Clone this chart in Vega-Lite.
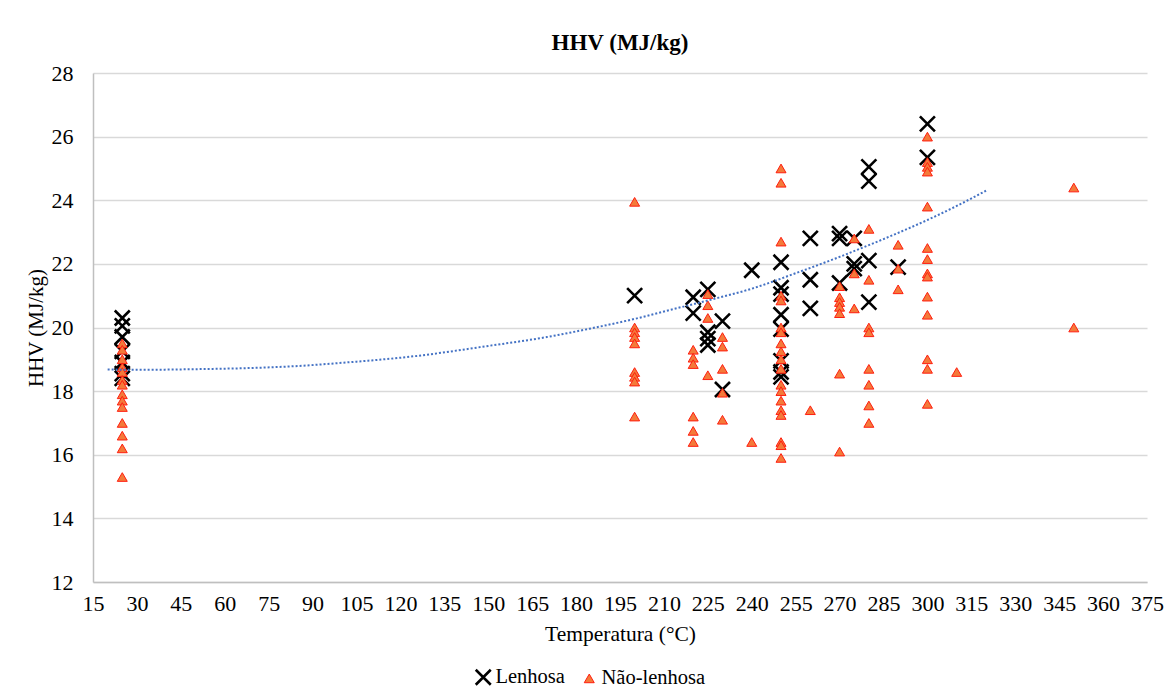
{
  "$schema": "https://vega.github.io/schema/vega-lite/v6.json",
  "width": 1054,
  "height": 509,
  "autosize": {"type": "none"},
  "padding": {"left": 93, "top": 73, "right": 17, "bottom": 110},
  "background": "white",
  "config": {
    "view": {"stroke": null},
    "font": "Liberation Serif",
    "axis": {"labelFont": "Liberation Serif", "titleFont": "Liberation Serif", "labelColor": "#000000", "titleColor": "#000000"},
    "legend": {"labelFont": "Liberation Serif"}
  },
  "title": {"text": "HHV (MJ/kg)", "font": "Liberation Serif", "fontSize": 23, "fontWeight": "bold", "color": "#000000", "anchor": "middle", "offset": 7},
  "datasets": {
    "pts": [
      {"t": 25, "hhv": 20.3, "s": "Lenhosa"},
      {"t": 25, "hhv": 20.05, "s": "Lenhosa"},
      {"t": 25, "hhv": 19.7, "s": "Lenhosa"},
      {"t": 25, "hhv": 19.25, "s": "Lenhosa"},
      {"t": 25, "hhv": 18.9, "s": "Lenhosa"},
      {"t": 25, "hhv": 18.55, "s": "Lenhosa"},
      {"t": 25, "hhv": 18.4, "s": "Lenhosa"},
      {"t": 200, "hhv": 21.0, "s": "Lenhosa"},
      {"t": 220, "hhv": 20.95, "s": "Lenhosa"},
      {"t": 220, "hhv": 20.45, "s": "Lenhosa"},
      {"t": 225, "hhv": 21.2, "s": "Lenhosa"},
      {"t": 225, "hhv": 19.85, "s": "Lenhosa"},
      {"t": 225, "hhv": 19.65, "s": "Lenhosa"},
      {"t": 225, "hhv": 19.45, "s": "Lenhosa"},
      {"t": 230, "hhv": 20.2, "s": "Lenhosa"},
      {"t": 230, "hhv": 18.05, "s": "Lenhosa"},
      {"t": 240, "hhv": 21.8, "s": "Lenhosa"},
      {"t": 250, "hhv": 22.05, "s": "Lenhosa"},
      {"t": 250, "hhv": 21.25, "s": "Lenhosa"},
      {"t": 250, "hhv": 21.05, "s": "Lenhosa"},
      {"t": 250, "hhv": 20.4, "s": "Lenhosa"},
      {"t": 250, "hhv": 19.95, "s": "Lenhosa"},
      {"t": 250, "hhv": 18.95, "s": "Lenhosa"},
      {"t": 250, "hhv": 18.6, "s": "Lenhosa"},
      {"t": 250, "hhv": 18.45, "s": "Lenhosa"},
      {"t": 260, "hhv": 22.8, "s": "Lenhosa"},
      {"t": 260, "hhv": 21.5, "s": "Lenhosa"},
      {"t": 260, "hhv": 20.6, "s": "Lenhosa"},
      {"t": 270, "hhv": 22.95, "s": "Lenhosa"},
      {"t": 270, "hhv": 22.8, "s": "Lenhosa"},
      {"t": 270, "hhv": 21.4, "s": "Lenhosa"},
      {"t": 275, "hhv": 22.8, "s": "Lenhosa"},
      {"t": 275, "hhv": 22.0, "s": "Lenhosa"},
      {"t": 275, "hhv": 21.85, "s": "Lenhosa"},
      {"t": 280, "hhv": 25.05, "s": "Lenhosa"},
      {"t": 280, "hhv": 24.6, "s": "Lenhosa"},
      {"t": 280, "hhv": 22.1, "s": "Lenhosa"},
      {"t": 280, "hhv": 20.8, "s": "Lenhosa"},
      {"t": 290, "hhv": 21.9, "s": "Lenhosa"},
      {"t": 300, "hhv": 26.4, "s": "Lenhosa"},
      {"t": 300, "hhv": 25.35, "s": "Lenhosa"},

      {"t": 25, "hhv": 19.5, "s": "Não-lenhosa"},
      {"t": 25, "hhv": 19.3, "s": "Não-lenhosa"},
      {"t": 25, "hhv": 19.0, "s": "Não-lenhosa"},
      {"t": 25, "hhv": 18.75, "s": "Não-lenhosa"},
      {"t": 25, "hhv": 18.6, "s": "Não-lenhosa"},
      {"t": 25, "hhv": 18.35, "s": "Não-lenhosa"},
      {"t": 25, "hhv": 18.2, "s": "Não-lenhosa"},
      {"t": 25, "hhv": 17.9, "s": "Não-lenhosa"},
      {"t": 25, "hhv": 17.7, "s": "Não-lenhosa"},
      {"t": 25, "hhv": 17.5, "s": "Não-lenhosa"},
      {"t": 25, "hhv": 17.0, "s": "Não-lenhosa"},
      {"t": 25, "hhv": 16.6, "s": "Não-lenhosa"},
      {"t": 25, "hhv": 16.2, "s": "Não-lenhosa"},
      {"t": 25, "hhv": 15.3, "s": "Não-lenhosa"},
      {"t": 200, "hhv": 23.95, "s": "Não-lenhosa"},
      {"t": 200, "hhv": 20.0, "s": "Não-lenhosa"},
      {"t": 200, "hhv": 19.85, "s": "Não-lenhosa"},
      {"t": 200, "hhv": 19.7, "s": "Não-lenhosa"},
      {"t": 200, "hhv": 19.5, "s": "Não-lenhosa"},
      {"t": 200, "hhv": 18.6, "s": "Não-lenhosa"},
      {"t": 200, "hhv": 18.45, "s": "Não-lenhosa"},
      {"t": 200, "hhv": 18.3, "s": "Não-lenhosa"},
      {"t": 200, "hhv": 17.2, "s": "Não-lenhosa"},
      {"t": 220, "hhv": 19.3, "s": "Não-lenhosa"},
      {"t": 220, "hhv": 19.05, "s": "Não-lenhosa"},
      {"t": 220, "hhv": 18.85, "s": "Não-lenhosa"},
      {"t": 220, "hhv": 17.2, "s": "Não-lenhosa"},
      {"t": 220, "hhv": 16.75, "s": "Não-lenhosa"},
      {"t": 220, "hhv": 16.4, "s": "Não-lenhosa"},
      {"t": 225, "hhv": 21.05, "s": "Não-lenhosa"},
      {"t": 225, "hhv": 20.7, "s": "Não-lenhosa"},
      {"t": 225, "hhv": 20.3, "s": "Não-lenhosa"},
      {"t": 225, "hhv": 18.5, "s": "Não-lenhosa"},
      {"t": 230, "hhv": 19.7, "s": "Não-lenhosa"},
      {"t": 230, "hhv": 19.4, "s": "Não-lenhosa"},
      {"t": 230, "hhv": 18.7, "s": "Não-lenhosa"},
      {"t": 230, "hhv": 17.95, "s": "Não-lenhosa"},
      {"t": 230, "hhv": 17.1, "s": "Não-lenhosa"},
      {"t": 240, "hhv": 16.4, "s": "Não-lenhosa"},
      {"t": 250, "hhv": 25.0, "s": "Não-lenhosa"},
      {"t": 250, "hhv": 24.55, "s": "Não-lenhosa"},
      {"t": 250, "hhv": 22.7, "s": "Não-lenhosa"},
      {"t": 250, "hhv": 21.0, "s": "Não-lenhosa"},
      {"t": 250, "hhv": 20.85, "s": "Não-lenhosa"},
      {"t": 250, "hhv": 20.0, "s": "Não-lenhosa"},
      {"t": 250, "hhv": 19.85, "s": "Não-lenhosa"},
      {"t": 250, "hhv": 19.5, "s": "Não-lenhosa"},
      {"t": 250, "hhv": 19.25, "s": "Não-lenhosa"},
      {"t": 250, "hhv": 19.0, "s": "Não-lenhosa"},
      {"t": 250, "hhv": 18.7, "s": "Não-lenhosa"},
      {"t": 250, "hhv": 18.2, "s": "Não-lenhosa"},
      {"t": 250, "hhv": 18.0, "s": "Não-lenhosa"},
      {"t": 250, "hhv": 17.7, "s": "Não-lenhosa"},
      {"t": 250, "hhv": 17.4, "s": "Não-lenhosa"},
      {"t": 250, "hhv": 17.25, "s": "Não-lenhosa"},
      {"t": 250, "hhv": 16.4, "s": "Não-lenhosa"},
      {"t": 250, "hhv": 16.3, "s": "Não-lenhosa"},
      {"t": 250, "hhv": 15.9, "s": "Não-lenhosa"},
      {"t": 260, "hhv": 17.4, "s": "Não-lenhosa"},
      {"t": 270, "hhv": 21.3, "s": "Não-lenhosa"},
      {"t": 270, "hhv": 20.95, "s": "Não-lenhosa"},
      {"t": 270, "hhv": 20.8, "s": "Não-lenhosa"},
      {"t": 270, "hhv": 20.65, "s": "Não-lenhosa"},
      {"t": 270, "hhv": 20.45, "s": "Não-lenhosa"},
      {"t": 270, "hhv": 18.55, "s": "Não-lenhosa"},
      {"t": 270, "hhv": 16.1, "s": "Não-lenhosa"},
      {"t": 275, "hhv": 22.8, "s": "Não-lenhosa"},
      {"t": 275, "hhv": 21.7, "s": "Não-lenhosa"},
      {"t": 275, "hhv": 20.6, "s": "Não-lenhosa"},
      {"t": 280, "hhv": 23.1, "s": "Não-lenhosa"},
      {"t": 280, "hhv": 21.5, "s": "Não-lenhosa"},
      {"t": 280, "hhv": 20.0, "s": "Não-lenhosa"},
      {"t": 280, "hhv": 19.85, "s": "Não-lenhosa"},
      {"t": 280, "hhv": 18.7, "s": "Não-lenhosa"},
      {"t": 280, "hhv": 18.2, "s": "Não-lenhosa"},
      {"t": 280, "hhv": 17.55, "s": "Não-lenhosa"},
      {"t": 280, "hhv": 17.0, "s": "Não-lenhosa"},
      {"t": 290, "hhv": 22.6, "s": "Não-lenhosa"},
      {"t": 290, "hhv": 21.85, "s": "Não-lenhosa"},
      {"t": 290, "hhv": 21.2, "s": "Não-lenhosa"},
      {"t": 300, "hhv": 26.0, "s": "Não-lenhosa"},
      {"t": 300, "hhv": 25.2, "s": "Não-lenhosa"},
      {"t": 300, "hhv": 25.05, "s": "Não-lenhosa"},
      {"t": 300, "hhv": 24.9, "s": "Não-lenhosa"},
      {"t": 300, "hhv": 23.8, "s": "Não-lenhosa"},
      {"t": 300, "hhv": 22.5, "s": "Não-lenhosa"},
      {"t": 300, "hhv": 22.15, "s": "Não-lenhosa"},
      {"t": 300, "hhv": 21.7, "s": "Não-lenhosa"},
      {"t": 300, "hhv": 21.6, "s": "Não-lenhosa"},
      {"t": 300, "hhv": 20.97, "s": "Não-lenhosa"},
      {"t": 300, "hhv": 20.4, "s": "Não-lenhosa"},
      {"t": 300, "hhv": 19.0, "s": "Não-lenhosa"},
      {"t": 300, "hhv": 18.7, "s": "Não-lenhosa"},
      {"t": 300, "hhv": 17.6, "s": "Não-lenhosa"},
      {"t": 310, "hhv": 18.6, "s": "Não-lenhosa"},
      {"t": 350, "hhv": 24.4, "s": "Não-lenhosa"},
      {"t": 350, "hhv": 20.0, "s": "Não-lenhosa"}
    ],
    "trend": [
      {"t": 20, "hhv": 18.68},
      {"t": 30, "hhv": 18.67},
      {"t": 50, "hhv": 18.69},
      {"t": 70, "hhv": 18.73},
      {"t": 85, "hhv": 18.79},
      {"t": 100, "hhv": 18.89},
      {"t": 125, "hhv": 19.1},
      {"t": 150, "hhv": 19.42},
      {"t": 170, "hhv": 19.7},
      {"t": 185, "hhv": 19.97},
      {"t": 200, "hhv": 20.27},
      {"t": 212, "hhv": 20.55},
      {"t": 225, "hhv": 20.85},
      {"t": 240, "hhv": 21.22},
      {"t": 256, "hhv": 21.74},
      {"t": 270, "hhv": 22.22},
      {"t": 285, "hhv": 22.78},
      {"t": 300, "hhv": 23.38},
      {"t": 310, "hhv": 23.82},
      {"t": 320, "hhv": 24.3}
    ]
  },
  "layer": [
    {
      "data": {"name": "pts"},
      "mark": {"type": "point", "opacity": 1, "size": 100},
      "encoding": {
        "x": {
          "field": "t", "type": "quantitative",
          "scale": {"domain": [15, 375], "nice": false, "zero": false},
          "axis": {
            "title": "Temperatura (°C)", "titleFontSize": 21.5, "titleFontWeight": "normal", "titlePadding": 9,
            "values": [15, 30, 45, 60, 75, 90, 105, 120, 135, 150, 165, 180, 195, 210, 225, 240, 255, 270, 285, 300, 315, 330, 345, 360, 375],
            "labelFontSize": 22, "labelPadding": 11, "ticks": false, "grid": false,
            "domainColor": "#BFBFBF", "domainWidth": 1.5, "labelFlush": false, "labelOverlap": false
          }
        },
        "y": {
          "field": "hhv", "type": "quantitative",
          "scale": {"domain": [12, 28], "nice": false, "zero": false},
          "axis": {
            "title": "HHV (MJ/kg)", "titleFontSize": 21, "titleFontWeight": "normal", "titlePadding": 5,
            "values": [12, 14, 16, 18, 20, 22, 24, 26, 28],
            "labelFontSize": 22, "labelPadding": 20, "ticks": false,
            "grid": true, "gridColor": "#D9D9D9", "gridWidth": 1.5,
            "domainColor": "#BFBFBF", "domainWidth": 1.5, "labelFlush": false
          }
        },
        "shape": {
          "field": "s", "type": "nominal",
          "scale": {"domain": ["Lenhosa", "Não-lenhosa"], "range": ["M-1.5,-1.5L1.5,1.5M1.5,-1.5L-1.5,1.5", "triangle-up"]},
          "legend": {
            "title": null, "orient": "none", "legendX": 380, "legendY": 594, "direction": "horizontal",
            "labelFontSize": 20.5, "labelColor": "#000000", "columnPadding": 14, "symbolOffset": 0, "labelOffset": 2,
            "encode": {"symbols": {
              "enter": {"size": {"signal": "datum.value === 'Lenhosa' ? 45 : 80"}},
              "update": {"size": {"signal": "datum.value === 'Lenhosa' ? 45 : 80"}}
            }}
          }
        },
        "fill": {
          "field": "s", "type": "nominal",
          "scale": {"domain": ["Lenhosa", "Não-lenhosa"], "range": ["transparent", "#F47A3A"]}
        },
        "stroke": {
          "field": "s", "type": "nominal",
          "scale": {"domain": ["Lenhosa", "Não-lenhosa"], "range": ["#000000", "#FF1E10"]}
        },
        "strokeWidth": {
          "field": "s", "type": "ordinal",
          "scale": {"domain": ["Lenhosa", "Não-lenhosa"], "range": [2.6, 1]}
        }
      }
    },
    {
      "data": {"name": "trend"},
      "mark": {"type": "line", "color": "#4472C4", "strokeWidth": 2, "strokeDash": [2, 2], "interpolate": "monotone"},
      "encoding": {
        "x": {"field": "t", "type": "quantitative"},
        "y": {"field": "hhv", "type": "quantitative"}
      }
    }
  ]
}
